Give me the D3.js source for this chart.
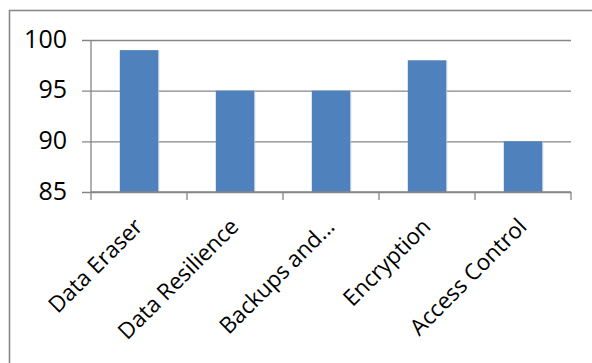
<!DOCTYPE html>
<html><head><meta charset="utf-8">
<script src="https://cdn.jsdelivr.net/npm/d3@7/dist/d3.min.js"></script>
<style>body{margin:0;background:#fff}svg{display:block}</style>
</head><body>
<script>
const categories = ["Data Eraser", "Data Resilience", "Backups and...", "Encryption", "Access Control"];
const values = [99, 95, 95, 98, 90];
const yTicks = [85, 90, 95, 100];

(function () {
const W = 592, H = 363;
const svg = d3.select("body").append("svg").attr("width", W).attr("height", H);
const font = "'Open Sans', 'Noto Sans', sans-serif";
const gridColor = "#868686";

// outer chart frame (clipped at right/bottom like the reference)
svg.append("rect").attr("x", 9.5).attr("y", 10.5).attr("width", 600).attr("height", 400)
  .attr("fill", "none").attr("stroke", "#8a8a8a").attr("stroke-width", 1.6);

const pL = 91, pR = 571, pT = 40, pB = 192;
const y = d3.scaleLinear().domain([85, 100]).range([pB, pT]);
const xOuter = d3.scaleBand().domain(categories).range([pL, pR]).padding(0);
const x = d3.scaleBand().domain(categories).range([pL, pR]).paddingInner(0.6).paddingOuter(0.3);

// gridlines + y ticks
const yAxis = d3.axisLeft(y).tickValues(yTicks).tickSize(-(pR - pL)).tickPadding(24).tickFormat(d3.format("d"));
const gy = svg.append("g").attr("transform", `translate(${pL},0)`).call(yAxis);
gy.select(".domain").remove();
gy.selectAll(".tick line").attr("x1", -9).attr("stroke", gridColor).attr("stroke-width", 1.3);
gy.selectAll(".tick text").attr("font-family", font).attr("font-size", 25).attr("fill", "#000").attr("dy", "0.28em");

// bars
svg.append("g").selectAll("rect").data(values).join("rect")
  .attr("x", (d, i) => x(categories[i]))
  .attr("y", d => y(d))
  .attr("width", x.bandwidth())
  .attr("height", d => y(85) - y(d))
  .attr("fill", "#4F81BD");
svg.append("g").selectAll("line").data(values).join("line")
  .attr("x1", (d, i) => x(categories[i]) + x.bandwidth() + 0.5)
  .attr("x2", (d, i) => x(categories[i]) + x.bandwidth() + 0.5)
  .attr("y1", d => y(d)).attr("y2", y(85))
  .attr("stroke", "#a9c0df").attr("stroke-width", 1);

// y axis line
svg.append("line").attr("x1", pL).attr("x2", pL).attr("y1", pT).attr("y2", pB)
  .attr("stroke", gridColor).attr("stroke-width", 1.3);
// x axis line
svg.append("line").attr("x1", pL).attr("x2", pR).attr("y1", pB).attr("y2", pB)
  .attr("stroke", gridColor).attr("stroke-width", 1.3);

// category boundary ticks
const bounds = categories.map(c => xOuter(c)).concat([xOuter(categories[categories.length - 1]) + xOuter.bandwidth()]);
svg.append("g").selectAll("line").data(bounds).join("line")
  .attr("x1", d => d).attr("x2", d => d).attr("y1", pB).attr("y2", pB + 8)
  .attr("stroke", gridColor).attr("stroke-width", 1.3);

// category labels
svg.append("g").selectAll("text").data(categories).join("text")
  .attr("transform", c => `translate(${xOuter(c) + xOuter.bandwidth() / 2 + 5},228) rotate(-45)`)
  .attr("text-anchor", "end")
  .attr("font-family", font).attr("font-size", 22.5).attr("fill", "#000")
  .text(c => c);
})();
</script>
</body></html>
